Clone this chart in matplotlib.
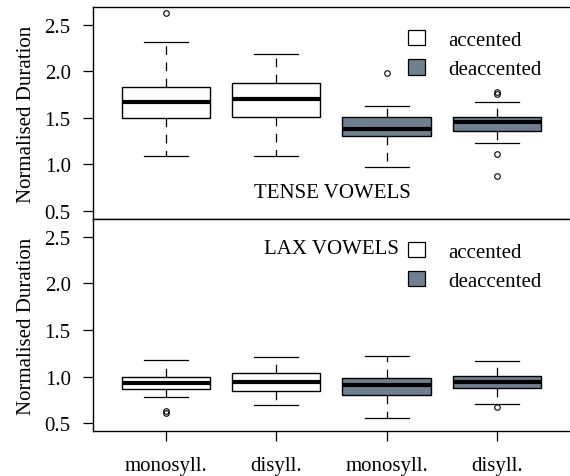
import matplotlib
matplotlib.use('Agg')
import matplotlib.pyplot as plt
from matplotlib.patches import Patch

plt.rcParams['font.family'] = ['Liberation Serif', 'DejaVu Serif']

groups = ['monosyll.', 'disyll.', 'monosyll.', 'disyll.']
accent = ['accented', 'accented', 'deaccented', 'deaccented']

# box statistics: lower whisker, Q1, median, Q3, upper whisker
tense_lo = [1.09, 1.09, 0.97, 1.23]
tense_q1 = [1.50, 1.51, 1.30, 1.36]
tense_med = [1.675, 1.70, 1.375, 1.45]
tense_q3 = [1.83, 1.87, 1.51, 1.51]
tense_hi = [2.31, 2.19, 1.63, 1.67]
tense_out = [[2.63], [], [1.98], [1.76, 1.78, 1.11, 0.88]]

lax_lo = [0.78, 0.69, 0.56, 0.70]
lax_q1 = [0.87, 0.84, 0.80, 0.88]
lax_med = [0.93, 0.94, 0.91, 0.94]
lax_q3 = [1.00, 1.04, 0.98, 1.01]
lax_hi = [1.18, 1.21, 1.22, 1.17]
lax_out = [[0.61, 0.63], [], [], [0.67]]

colours = {'accented': 'white', 'deaccented': '#708090'}
FS = 15


def make_stats(lo, q1, med, q3, hi, out):
    return [dict(whislo=lo[i], q1=q1[i], med=med[i], q3=q3[i], whishi=hi[i],
                 fliers=out[i]) for i in range(len(lo))]


def draw(ax, stats):
    b = ax.bxp(stats, positions=[1, 2, 3, 4], widths=0.8, patch_artist=True,
               showfliers=True,
               boxprops=dict(edgecolor='black', linewidth=1.0),
               medianprops=dict(color='black', linewidth=3.0),
               whiskerprops=dict(color='black', linewidth=0.9, linestyle=(0, (7, 6))),
               capprops=dict(color='black', linewidth=0.9),
               flierprops=dict(marker='o', markersize=4, markerfacecolor='none',
                               markeredgecolor='black', markeredgewidth=0.8))
    for p, a in zip(b['boxes'], accent):
        p.set_facecolor(colours[a])
    for c in b['caps']:
        x = c.get_xdata()
        m = (x[0] + x[1]) / 2
        c.set_xdata([m - 0.2, m + 0.2])
    ax.set_xlim(0.34, 4.66)
    ax.set_ylim(0.414, 2.69)
    ax.set_yticks([0.5, 1.0, 1.5, 2.0, 2.5])
    ax.set_yticklabels(['0.5', '1.0', '1.5', '2.0', '2.5'])
    ax.tick_params(axis='y', direction='out', length=7, width=0.9, pad=9, labelsize=FS)
    ax.set_ylabel('Normalised Duration', fontsize=FS, labelpad=6)
    ax.spines['right'].set_visible(False)
    for s in ['left', 'top', 'bottom']:
        ax.spines[s].set_linewidth(1.0)
    handles = [Patch(facecolor=colours['accented'], edgecolor='black', linewidth=0.9),
               Patch(facecolor=colours['deaccented'], edgecolor='black', linewidth=0.9)]
    ax.legend(handles, ['accented', 'deaccented'], loc='upper left',
              bbox_to_anchor=(0.66, 0.892), frameon=False, fontsize=FS,
              handlelength=0.85, handleheight=0.75, handletextpad=1.1,
              labelspacing=0.45, borderpad=0, borderaxespad=0)


fig = plt.figure(figsize=(5.7, 4.77), dpi=100)
ax1 = fig.add_axes([0.163, 0.539, 0.837, 0.444])
ax2 = fig.add_axes([0.163, 0.094, 0.837, 0.445])

draw(ax1, make_stats(tense_lo, tense_q1, tense_med, tense_q3, tense_hi, tense_out))
ax1.set_xticks([])
ax1.text(2.51, 0.70, 'TENSE VOWELS', ha='center', va='center', fontsize=FS)

draw(ax2, make_stats(lax_lo, lax_q1, lax_med, lax_q3, lax_hi, lax_out))
ax2.set_xticks([1, 2, 3, 4])
ax2.set_xticklabels(groups)
ax2.tick_params(axis='x', direction='out', length=7, width=0.9, pad=11, labelsize=FS)
ax2.text(3.11, 2.37, 'LAX VOWELS', ha='right', va='center', fontsize=FS)

fig.savefig('out.png', dpi=100)
